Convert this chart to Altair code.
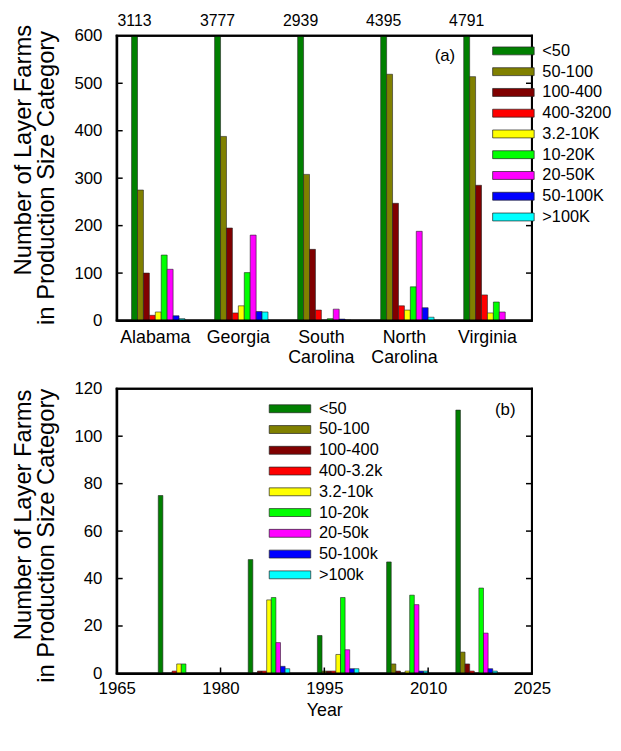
import altair as alt
import pandas as pd

# ---------------- data ----------------
states = ["Alabama", "Georgia", "South Carolina", "North Carolina", "Virginia"]
cats_a = ["<50", "50-100", "100-400", "400-3200", "3.2-10K", "10-20K", "20-50K", "50-100K", ">100K"]
cats_b = ["<50", "50-100", "100-400", "400-3.2k", "3.2-10k", "10-20k", "20-50k", "50-100k", ">100k"]
colors = ["#008000", "#808000", "#800000", "#FF0000", "#FFFF00", "#00FF00", "#FF00FF", "#0000FF", "#00FFFF"]

alabama = [3113, 275, 100, 11, 18, 138, 108, 10, 4]
georgia = [3777, 388, 195, 16, 31, 101, 180, 19, 18]
south_carolina = [2939, 308, 150, 22, 0, 4, 24, 3, 1]
north_carolina = [4395, 519, 247, 31, 22, 71, 188, 27, 7]
virginia = [4791, 514, 285, 54, 16, 39, 18, 0, 0]

years = [1974, 1987, 1997, 2007, 2017]
y1974 = [75, 0, 0, 1, 4, 4, 0, 0, 0]
y1987 = [48, 0, 1, 1, 31, 32, 13, 3, 2]
y1997 = [16, 1, 1, 1, 8, 32, 10, 2, 2]
y2007 = [47, 4, 1, 0, 1, 33, 29, 1, 1]
y2017 = [111, 9, 4, 1, 0, 36, 17, 2, 1]

ticks_a = [0, 100, 200, 300, 400, 500, 600]
ticks_b = [0, 20, 40, 60, 80, 100, 120]
xticks_b = [1965, 1980, 1995, 2010, 2025]

TITLE_1 = "Number of Layer Farms"
TITLE_2 = "in Production Size Category"

FONT = "Liberation Sans"
W, H = 420, 288
STROKE = "#222222"
LW = 2

one = pd.DataFrame({"k": [0]})


def text_layer(s, x, y, **kw):
    return alt.Chart(pd.DataFrame({"t": [s]})).mark_text(
        color="black", font=FONT, **kw).encode(x=alt.value(x), y=alt.value(y), text="t:N")


def title_layers(dy1, dy2):
    common = dict(angle=270, align="right", baseline="alphabetic", fontSize=24)
    return [text_layer(TITLE_1, -87, dy1, **common), text_layer(TITLE_2, -63, dy2, **common)]


def frame():
    h = LW / 2
    edges = [(-h, W + h, -h, h), (-h, W + h, H - h, H + h),
             (-h, h, -h, H + h), (W - h, W + h, -h, H + h)]
    return [alt.Chart(one).mark_rect(color="black", opacity=1).encode(
        x=alt.value(a), x2=alt.value(b), y=alt.value(c), y2=alt.value(d))
        for a, b, c, d in edges]


def yaxis(vals):
    return alt.Axis(values=vals, ticks=False, tickSize=0, domain=True, domainColor="black",
                    domainWidth=LW, grid=False, labelFontSize=17, labelPadding=15,
                    labelColor="black", title=None)


legend_common = dict(title=None, orient="none", symbolType="M-5.25,-1H5.25V1H-5.25Z",
                     symbolSize=64, symbolStrokeColor=STROKE, symbolStrokeWidth=0.7,
                     labelFontSize=16.5, labelOffset=21, rowPadding=4, padding=0,
                     labelColor="black", labelFont=FONT)

# ---------------- panel (a) ----------------
rows = []
for s, vals in zip(states, [alabama, georgia, south_carolina, north_carolina, virginia]):
    for i, (c, v) in enumerate(zip(cats_a, vals)):
        rows.append({"state": s, "cat": c, "value": v, "idx": i})
dfa = pd.DataFrame(rows)

xa = alt.X("state:N", sort=states,
           scale=alt.Scale(domain=states, paddingInner=0.357, paddingOuter=0.1786),
           axis=alt.Axis(title=None, labelAngle=0, labelFontSize=18, labelPadding=8,
                         ticks=False, tickSize=0, domain=True, domainColor="black",
                         domainWidth=LW, labelExpr="split(datum.label, ' ')",
                         labelLineHeight=20, labelOffset=-3, labelColor="black"))
xoff_a = alt.XOffset("cat:N", sort=cats_a,
                     scale=alt.Scale(domain=cats_a, paddingInner=0, paddingOuter=0))
ya = alt.Y("value:Q", scale=alt.Scale(domain=[0, 600], nice=False), axis=yaxis(ticks_a))

bars_a = alt.Chart(dfa).mark_bar(clip=True, stroke=STROKE, strokeWidth=0.6).encode(
    x=xa, xOffset=xoff_a, y=ya,
    color=alt.Color("cat:N", sort=cats_a, scale=alt.Scale(domain=cats_a, range=colors),
                    legend=alt.Legend(legendX=393, legendY=7, **legend_common)))

text_a = alt.Chart(dfa).transform_filter("datum.cat == '<50'").mark_text(
    fontSize=16, baseline="middle", align="center", color="black", font=FONT).encode(
    x=xa, xOffset=xoff_a, y=alt.value(-15), text="value:Q")

dta = pd.DataFrame({"value": ticks_a[1:-1]})
tick_l_a = alt.Chart(dta).mark_tick(orient="horizontal", size=6, thickness=1.5,
                                    color="black", opacity=1).encode(y=ya, x=alt.value(3))
tick_r_a = alt.Chart(dta).mark_tick(orient="horizontal", size=6, thickness=1.5,
                                    color="black", opacity=1).encode(y=ya, x=alt.value(W - 3))

top = alt.layer(bars_a, text_a, tick_l_a, tick_r_a, *frame(),
                text_layer("(a)", 332, 20, fontSize=17),
                *title_layers(-11, -5)).properties(width=W, height=H)

# ---------------- panel (b) ----------------
rows = []
for yr, vals in zip(years, [y1974, y1987, y1997, y2007, y2017]):
    for i, (c, v) in enumerate(zip(cats_b, vals)):
        rows.append({"year": yr, "cat": c, "value": v, "idx": i})
dfb = pd.DataFrame(rows)

xb = alt.X("x0:Q", scale=alt.Scale(domain=[1965, 2025], nice=False),
           axis=alt.Axis(values=xticks_b, format="d", ticks=False, tickSize=0, domain=True,
                         domainColor="black", domainWidth=LW,
                         grid=False, labelFontSize=17, labelPadding=7, labelFlush=False,
                         labelColor="black", title="Year", titleFontSize=18,
                         titleFontWeight="normal", titleColor="black", titlePadding=6))
yb = alt.Y("value:Q", scale=alt.Scale(domain=[0, 120], nice=False), axis=yaxis(ticks_b))

bars_b = alt.Chart(dfb).transform_calculate(
    x0="datum.year - 3 + datum.idx * 2 / 3",
    x1="datum.year - 3 + (datum.idx + 1) * 2 / 3").mark_bar(
    stroke=STROKE, strokeWidth=0.6).encode(
    x=xb, x2="x1:Q", y=yb, y2=alt.Y2(datum=0),
    color=alt.Color("cat:N", sort=cats_b, scale=alt.Scale(domain=cats_b, range=colors),
                    legend=alt.Legend(legendX=167, legendY=12, **legend_common)))

dtb = pd.DataFrame({"value": ticks_b[1:-1]})
tick_l_b = alt.Chart(dtb).mark_tick(orient="horizontal", size=6, thickness=1.5,
                                    color="black", opacity=1).encode(y=yb, x=alt.value(3))
tick_r_b = alt.Chart(dtb).mark_tick(orient="horizontal", size=6, thickness=1.5,
                                    color="black", opacity=1).encode(y=yb, x=alt.value(W - 3))
dxb = pd.DataFrame({"x0": xticks_b[1:-1]})
tick_x_b = alt.Chart(dxb).mark_tick(orient="vertical", size=6, thickness=1.5,
                                    color="black", opacity=1).encode(x=xb, y=alt.value(H - 3))

bottom = alt.layer(bars_b, tick_l_b, tick_r_b, tick_x_b, *frame(),
                   text_layer("(b)", 393, 22, fontSize=17),
                   *title_layers(1, 0)).properties(width=W, height=H)

chart = alt.vconcat(top, bottom, spacing=12).resolve_scale(
    color="independent", x="independent", y="independent").properties(
    padding={"left": 3, "top": 0, "right": 0, "bottom": 0}).configure(
    font=FONT).configure_view(stroke="black", strokeWidth=LW).configure_axis(
    labelFont=FONT, titleFont=FONT)

chart.save("out.html", embed_options={"renderer": "svg", "actions": False})
